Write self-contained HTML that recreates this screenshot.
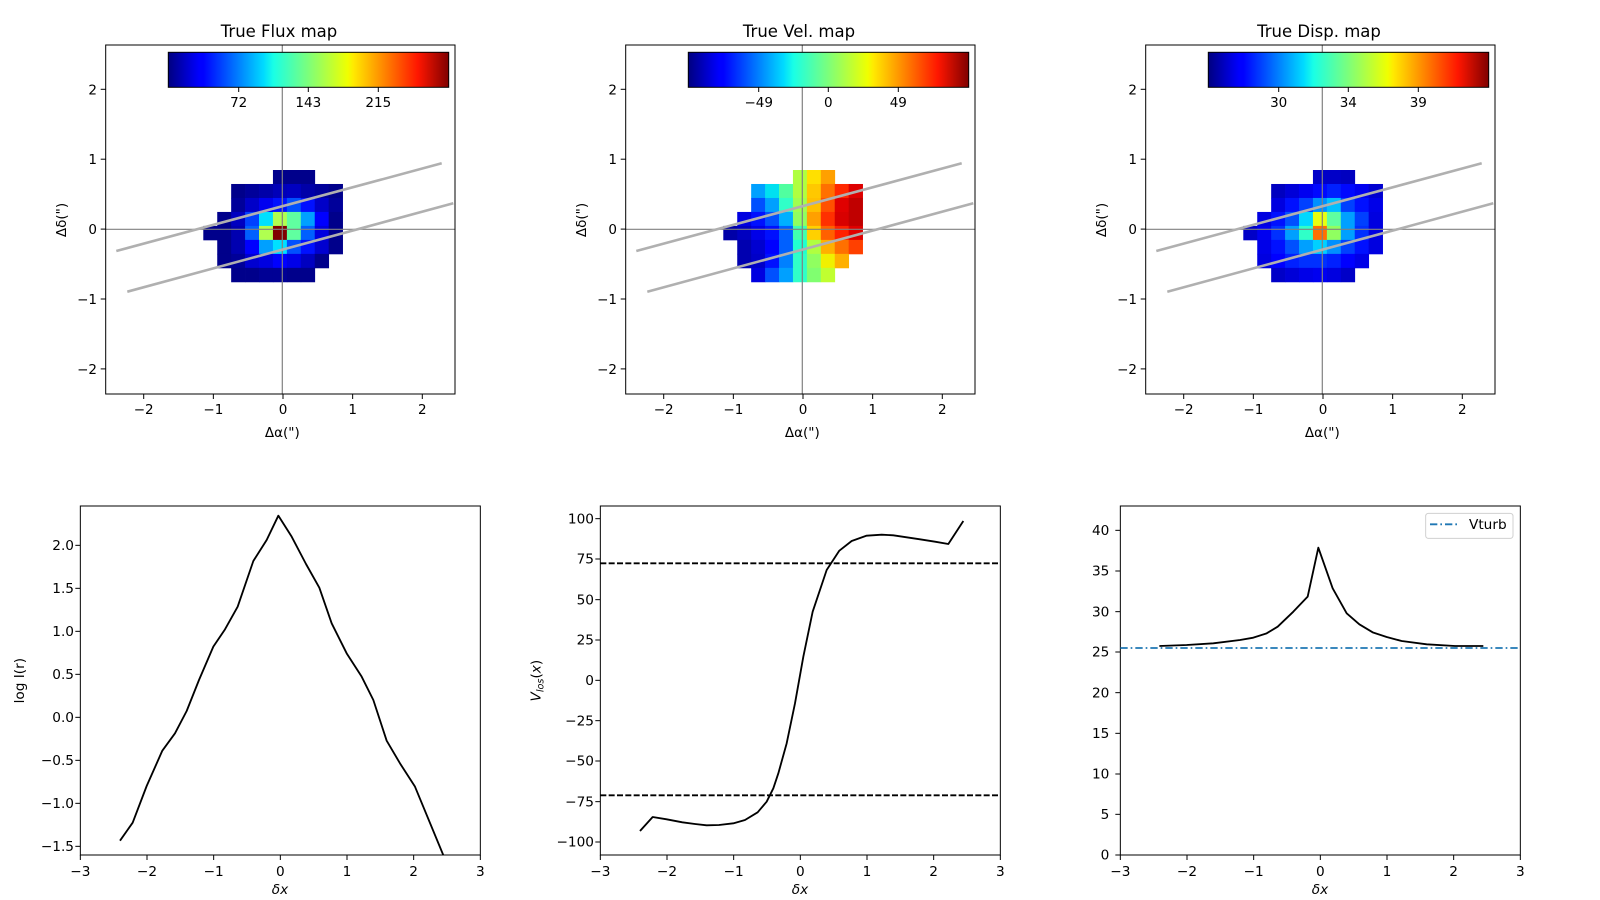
<!DOCTYPE html>
<html><head><meta charset="utf-8"><style>
html,body{margin:0;padding:0;background:#fff;}
svg{display:block;font-family:"DejaVu Sans","Liberation Sans",sans-serif;}
</style></head><body>
<svg id="s" width="1600" height="900" viewBox="0 0 1600 900" xmlns="http://www.w3.org/2000/svg">
<defs>
<linearGradient id="jet" x1="0" x2="1" y1="0" y2="0">
<stop offset="0" stop-color="#000080"/><stop offset="0.11" stop-color="#0000ff"/><stop offset="0.125" stop-color="#0000ff"/>
<stop offset="0.34" stop-color="#00dbff"/><stop offset="0.375" stop-color="#19ffe6"/><stop offset="0.5" stop-color="#7dff7a"/>
<stop offset="0.64" stop-color="#f0ff00"/><stop offset="0.66" stop-color="#ffea00"/><stop offset="0.89" stop-color="#ff1600"/>
<stop offset="1" stop-color="#800000"/>
</linearGradient>
</defs>
<g id="top"></g>
<g font-size="16.5" text-anchor="middle" fill="#000">
<text x="279" y="37">True Flux map</text>
<text x="799" y="37">True Vel. map</text>
<text x="1319" y="37">True Disp. map</text>
</g>
<g font-size="13.5" text-anchor="middle" fill="#000">
<text x="238.7" y="107">72</text><text x="308.3" y="107">143</text><text x="378.3" y="107">215</text>
<text x="758.7" y="107">−49</text><text x="828.3" y="107">0</text><text x="898.3" y="107">49</text>
<text x="1278.7" y="107">30</text><text x="1348.3" y="107">34</text><text x="1418.3" y="107">39</text>
</g>
<g id="toplabels" font-size="13.5" fill="#000"></g>

<g transform="translate(0,490) scale(0.33333)" font-size="41" fill="#000">
<rect x="241" y="48" width="1200" height="1047" fill="none" stroke="#000" stroke-width="3"/>
<g id="bx0"></g>
<g text-anchor="end">
<text x="222" y="180">2.0</text><text x="222" y="309">1.5</text><text x="222" y="438">1.0</text><text x="222" y="567">0.5</text><text x="222" y="696">0.0</text><text x="222" y="825">−0.5</text><text x="222" y="954">−1.0</text><text x="222" y="1083">−1.5</text>
</g>
<text transform="translate(72,572) rotate(-90)" text-anchor="middle">log I(r)</text>
<text x="840" y="1212" text-anchor="middle" font-style="italic">δx</text>
<svg x="241" y="48" width="1200" height="1047" viewBox="241 48 1200 1047" overflow="hidden">
<polyline fill="none" stroke="#000" stroke-width="5.5" stroke-linejoin="round" points="360,1052 398,998 440,888 487,782 525,730 560,663 597,570 640,470 675,418 713,350 760,213 800,150 835,77 875,140 918,222 958,293 995,400 1040,490 1085,560 1120,630 1160,752 1200,820 1245,890 1338,1115"/>
</svg>
</g>

<g transform="translate(520,490) scale(0.33333)" font-size="41" fill="#000">
<rect x="241" y="48" width="1200" height="1047" fill="none" stroke="#000" stroke-width="3"/>
<g id="bx1"></g>
<g text-anchor="end">
<text x="222" y="100">100</text><text x="222" y="221">75</text><text x="222" y="343">50</text><text x="222" y="464">25</text><text x="222" y="585">0</text><text x="222" y="706">−25</text><text x="222" y="827">−50</text><text x="222" y="949">−75</text><text x="222" y="1070">−100</text>
</g>
<text transform="translate(62,572) rotate(-90)" text-anchor="middle"><tspan font-style="italic">V</tspan><tspan font-size="29" font-style="italic" dy="8">los</tspan><tspan dy="-8">(</tspan><tspan font-style="italic">x</tspan>)</text>
<text x="840" y="1212" text-anchor="middle" font-style="italic">δx</text>
<line x1="241" y1="220" x2="1441" y2="220" stroke="#000" stroke-width="5.5" stroke-dasharray="18,7"/>
<line x1="241" y1="916" x2="1441" y2="916" stroke="#000" stroke-width="5.5" stroke-dasharray="18,7"/>
<polyline fill="none" stroke="#000" stroke-width="5.5" stroke-linejoin="round" points="360,1023 398,981 440,988 487,997 525,1002 560,1006 597,1005 640,1000 675,990 713,967 740,935 760,895 775,850 800,760 825,640 850,500 878,365 920,240 958,182 995,153 1040,137 1085,134 1120,136 1160,142 1200,148 1245,155 1285,162 1330,93"/>
</g>

<g transform="translate(1040,490) scale(0.33333)" font-size="41" fill="#000">
<rect x="241" y="48" width="1200" height="1047" fill="none" stroke="#000" stroke-width="3"/>
<g id="bx2"></g>
<g text-anchor="end">
<text x="208" y="135">40</text><text x="208" y="257">35</text><text x="208" y="379">30</text><text x="208" y="500">25</text><text x="208" y="622">20</text><text x="208" y="744">15</text><text x="208" y="866">10</text><text x="208" y="987">5</text><text x="208" y="1109">0</text>
</g>
<text x="840" y="1212" text-anchor="middle" font-style="italic">δx</text>
<line x1="241" y1="474" x2="1441" y2="474" stroke="#1f77b4" stroke-width="5.5" stroke-dasharray="22,9,5,9"/>
<polyline fill="none" stroke="#000" stroke-width="5.5" stroke-linejoin="round" points="358,468 440,465 520,460 600,450 640,443 680,430 713,410 760,365 803,320 835,173 878,295 920,370 958,403 998,427 1040,441 1085,453 1160,463 1245,468 1330,468"/>
<rect x="1157" y="70" width="262" height="75" rx="8" fill="#fff" fill-opacity="0.8" stroke="#d0d0d0" stroke-width="3"/>
<line x1="1170" y1="103" x2="1255" y2="103" stroke="#1f77b4" stroke-width="5.5" stroke-dasharray="22,9,5,9"/>
<text x="1287" y="117">Vturb</text>
</g>
</svg>
<script>
(function(){
var NS="http://www.w3.org/2000/svg";
function el(p,n,a){var e=document.createElementNS(NS,n);for(var k in a)e.setAttribute(k,a[k]);p.appendChild(e);return e;}
var top=document.getElementById("top"), tl=document.getElementById("toplabels");
var grids=[
[[5,"#00008b","#00008b","#00008b"],
 [2,"#00008b","#00009a","#0000a8","#0000b8","#0000c0","#0000a8","#00009a","#00008b"],
 [2,"#00009a","#0000c8","#0000f0","#0010ff","#0050ff","#0010ff","#0000c8","#00009a"],
 [1,"#00008b","#0000c0","#0040ff","#00e0ff","#b0ff50","#60ffa0","#00a0ff","#0000ff","#00008b"],
 [0,"#00008b","#00008b","#0000b0","#0060ff","#b0ff50","#800000","#60ffa0","#0060ff","#0000e0","#00008b"],
 [1,"#00008b","#0000b0","#0000ff","#00a0ff","#00e0ff","#0050ff","#0010ff","#0000d0","#00008b"],
 [1,"#00008b","#000098","#0000d0","#0000e0","#0000ff","#0000e8","#0000c0","#00008b"],
 [2,"#00008b","#00008b","#000095","#000095","#00008b","#00008b"]],
[[5,"#b0ff40","#ffe000","#ffa000"],
 [2,"#00a0ff","#00e0f0","#50ffa0","#b0ff40","#ffc800","#ff7000","#ff2800","#dd0000"],
 [2,"#0050ff","#00a0ff","#30ffc8","#a0ff50","#ffc000","#ff5000","#e00000","#c00000"],
 [1,"#0000e0","#0010ff","#0050ff","#00b0ff","#90ff60","#ffa000","#ff3000","#d80000","#c00000"],
 [0,"#0000a8","#0000c0","#0000e8","#0010ff","#0060ff","#40ffb0","#ffd000","#ff6000","#ff2000","#e00000"],
 [1,"#0000b0","#0000d0","#0000ff","#0060ff","#20ffd0","#b0ff40","#ffb000","#ff7000","#ff4000"],
 [1,"#0000b0","#0000c8","#0010ff","#0080ff","#30ffc8","#90ff60","#f0f000","#ffb000"],
 [2,"#0000e0","#0050ff","#00a0ff","#30ffc8","#80ff70","#c0ff30"]],
[[5,"#0000c8","#0000c8","#0000c0"],
 [2,"#0000c0","#0000d8","#0000f0","#0008ff","#0020ff","#0008ff","#0000f0","#0000d0"],
 [2,"#0000e0","#0010ff","#0040ff","#0090ff","#00c0ff","#0040ff","#0010ff","#0000e8"],
 [1,"#0000e0","#0010ff","#0050ff","#00d8ff","#e8ff10","#60ffa0","#00a0ff","#0040ff","#0000e0"],
 [0,"#0000c8","#0000f0","#0030ff","#00a0ff","#30ffc8","#ff7000","#90ff60","#00a0ff","#0030ff","#0000e0"],
 [1,"#0000e8","#0010ff","#0050ff","#00a0ff","#00d0ff","#0090ff","#0040ff","#0010ff","#0000e0"],
 [1,"#0000e0","#0000ff","#0020ff","#0030ff","#0030ff","#0020ff","#0000ff","#0000e8"],
 [2,"#0000c8","#0000d8","#0000e8","#0000f0","#0000e0","#0000c8"]]];
var ylab=["2","1","0","−1","−2"], xlab=["−2","−1","0","1","2"];
for(var p=0;p<3;p++){
 var ox=p*520;
 var g=grids[p];
 for(var r=0;r<g.length;r++){var row=g[r],s=row[0];
  for(var c=1;c<row.length;c++){var x0=203.3+13.93*(s+c-1);
   el(top,"rect",{x:(x0+ox).toFixed(2),y:(170+13.98*r).toFixed(2),width:14.3,height:14.4,fill:row[c]});}}
 el(top,"line",{x1:282.3+ox,y1:45,x2:282.3+ox,y2:394,stroke:"#808080","stroke-width":1.2});
 el(top,"line",{x1:105.7+ox,y1:229.3,x2:455+ox,y2:229.3,stroke:"#808080","stroke-width":1.2});
 el(top,"line",{x1:116.3+ox,y1:251,x2:441.7+ox,y2:163.3,stroke:"#b0b0b0","stroke-width":2.6});
 el(top,"line",{x1:127.3+ox,y1:291.7,x2:453.3+ox,y2:203.3,stroke:"#b0b0b0","stroke-width":2.6});
 el(top,"rect",{x:168.3+ox,y:52.3,width:280.4,height:35,fill:"url(#jet)",stroke:"#000","stroke-width":1});
 [238.7,308.3,378.3].forEach(function(t){el(top,"line",{x1:t+ox,y1:87.3,x2:t+ox,y2:92,stroke:"#000","stroke-width":1});});
 el(top,"rect",{x:105.7+ox,y:45,width:349.3,height:349,fill:"none",stroke:"#000","stroke-width":1});
 for(var i=0;i<5;i++){
  var tx=143.7+69.65*i+ox;
  el(top,"line",{x1:tx,y1:394,x2:tx,y2:399,stroke:"#000","stroke-width":1});
  var t=el(tl,"text",{x:tx,y:414,"text-anchor":"middle"});t.textContent=xlab[i];
  var ty=89.3+69.9*i;
  el(top,"line",{x1:100.7+ox,y1:ty,x2:105.7+ox,y2:ty,stroke:"#000","stroke-width":1});
  var t2=el(tl,"text",{x:97+ox,y:ty+5,"text-anchor":"end"});t2.textContent=ylab[i];
 }
 var xl=el(tl,"text",{x:282.3+ox,y:437,"text-anchor":"middle"});xl.textContent="Δα(\")";
 var yl=el(tl,"text",{transform:"translate("+(66+ox)+",220) rotate(-90)","text-anchor":"middle"});yl.textContent="Δδ(\")";
}
var xt=["−3","−2","−1","0","1","2","3"];
var yt=[[166,295,424,553,682,811,940,1069],[86,207,329,450,571,692,813,935,1056],[121,243,365,486,608,730,852,973,1095]];
for(var b=0;b<3;b++){
 var gg=document.getElementById("bx"+b);
 for(var i=0;i<7;i++){var x=241+200*i;
  el(gg,"line",{x1:x,y1:1095,x2:x,y2:1110,stroke:"#000","stroke-width":3});
  var t=el(gg,"text",{x:x,y:1158,"text-anchor":"middle"});t.textContent=xt[i];}
 yt[b].forEach(function(y){el(gg,"line",{x1:226,y1:y,x2:241,y2:y,stroke:"#000","stroke-width":3});});
}
})();
</script>
</body></html>
